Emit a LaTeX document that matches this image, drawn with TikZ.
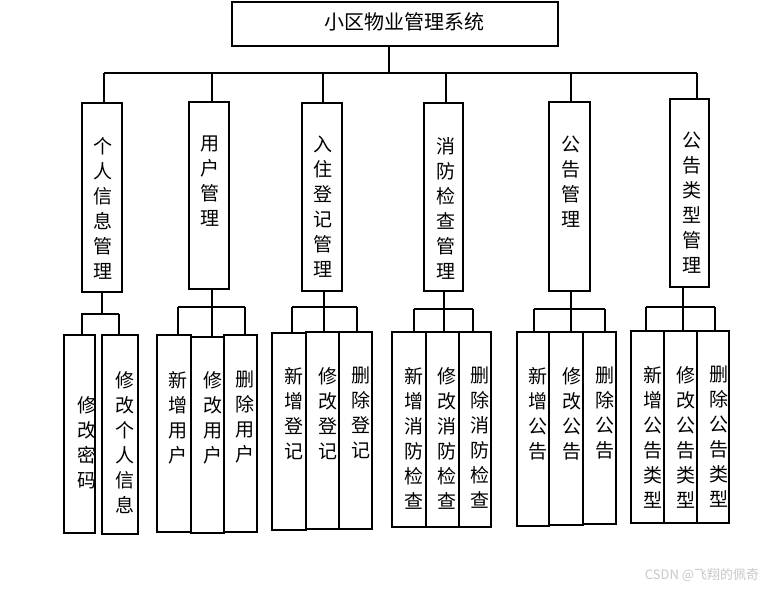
\documentclass[tikz,border=0pt]{standalone}
\usepackage{fontspec}
\setmainfont{Noto Sans CJK SC}
\begin{document}
\begin{tikzpicture}[x=1pt,y=-1pt,
  box/.style={draw, line width=1.1pt, inner sep=0pt, outer sep=0pt},
  txt/.style={font=\fontsize{19}{25}\selectfont, align=center, inner sep=0pt, anchor=north},
  ln/.style={line width=1.1pt}]
\useasboundingbox (0,0) rectangle (772,589);
\newcommand{\bx}[5]{\node[box, minimum width={#4-#2}, minimum height={#5-#3}] (#1) at ({(#2+#4)/2},{(#3+#5)/2}) {};}
% root
\bx{root}{232}{2}{558}{46}
\node[font=\fontsize{20}{24}\selectfont, inner sep=0pt] (rt) at (404.5,21.5) {小区物业管理系统};
% level 2
\bx{p1}{82}{103}{122}{292}
\bx{p2}{189}{102}{229}{289}
\bx{p3}{302}{103}{342}{291}
\bx{p4}{424}{103}{463}{291}
\bx{p5}{549}{102}{590}{291}
\bx{p6}{670}{99}{709}{287}
\node[txt] (t1) at (103,137) {个\\人\\信\\息\\管\\理};
\node[txt] (t2) at (210,136) {用\\户\\管\\理};
\node[txt] (t3) at (323,136) {入\\住\\登\\记\\管\\理};
\node[txt] (t4) at (446,137) {消\\防\\检\\查\\管\\理};
\node[txt] (t5) at (571,136) {公\\告\\管\\理};
\node[txt] (t6) at (692,132) {公\\告\\类\\型\\管\\理};
% level 1 connectors
\coordinate (rj) at (389,73);
\coordinate (m1) at (104,73);
\coordinate (m2) at (212,73);
\coordinate (m3) at (323,73);
\coordinate (m4) at (446,73);
\coordinate (m5) at (571,73);
\coordinate (m6) at (697,73);
\draw[ln] (rj |- root.south) -- (rj);
\draw[ln] (m1) -- (m6);
\foreach \i in {1,...,6}{\draw[ln] (m\i) -- (m\i |- p\i.north);}
% level 3 boxes
\bx{c11}{64}{335}{95}{533}
\bx{c12}{102}{335}{138}{534}
\bx{c21}{157}{335}{191}{532}
\bx{c22}{191}{337}{224}{533}
\bx{c23}{224}{335}{257}{532}
\bx{c31}{272}{333}{306}{530}
\bx{c32}{306}{332}{339}{529}
\bx{c33}{339}{332}{372}{529}
\bx{c41}{392}{332}{426}{527}
\bx{c42}{426}{332}{459}{527}
\bx{c43}{459}{332}{491}{527}
\bx{c51}{517}{332}{549}{526}
\bx{c52}{549}{332}{583}{525}
\bx{c53}{583}{332}{616}{524}
\bx{c61}{631}{331}{664}{523}
\bx{c62}{664}{331}{697}{523}
\bx{c63}{697}{331}{729}{523}
% level 3 texts
\node[txt] (u11) at (87,396) {修\\改\\密\\码};
\node[txt] (u12) at (125,371) {修\\改\\个\\人\\信\\息};
\node[txt] (u21) at (178,371) {新\\增\\用\\户};
\node[txt] (u22) at (213,371) {修\\改\\用\\户};
\node[txt] (u23) at (245,371) {删\\除\\用\\户};
\node[txt] (u31) at (294,367) {新\\增\\登\\记};
\node[txt] (u32) at (328,367) {修\\改\\登\\记};
\node[txt] (u33) at (361,367) {删\\除\\登\\记};
\node[txt] (u41) at (414,367) {新\\增\\消\\防\\检\\查};
\node[txt] (u42) at (447,367) {修\\改\\消\\防\\检\\查};
\node[txt] (u43) at (480,367) {删\\除\\消\\防\\检\\查};
\node[txt] (u51) at (538,367) {新\\增\\公\\告};
\node[txt] (u52) at (572,367) {修\\改\\公\\告};
\node[txt] (u53) at (605,367) {删\\除\\公\\告};
\node[txt] (u61) at (653,366) {新\\增\\公\\告\\类\\型};
\node[txt] (u62) at (686,366) {修\\改\\公\\告\\类\\型};
\node[txt] (u63) at (719,366) {删\\除\\公\\告\\类\\型};
% level 2 -> 3 connectors
\coordinate (g1) at (102,314);
\coordinate (d11) at (82,314); \coordinate (d12) at (119,314);
\coordinate (g2) at (212,307);
\coordinate (d21) at (178,307); \coordinate (d22) at (212,307); \coordinate (d23) at (245,307);
\coordinate (g3) at (324,307);
\coordinate (d31) at (292,307); \coordinate (d32) at (324,307); \coordinate (d33) at (357,307);
\coordinate (g4) at (444,309);
\coordinate (d41) at (414,309); \coordinate (d42) at (444,309); \coordinate (d43) at (473,309);
\coordinate (g5) at (571,309);
\coordinate (d51) at (534,309); \coordinate (d52) at (571,309); \coordinate (d53) at (605,309);
\coordinate (g6) at (683,307);
\coordinate (d61) at (646,307); \coordinate (d62) at (683,307); \coordinate (d63) at (715,307);
\draw[ln] (g1 |- p1.south) -- (g1);
\draw[ln] (81,314) -- (d12);
\draw[ln] (d11) -- (d11 |- c11.north);
\draw[ln] (d12) -- (d12 |- c12.north);
\foreach \g in {2,...,6}{
  \draw[ln] (g\g |- p\g.south) -- (g\g);
  \draw[ln] (d\g1) -- (d\g3);
  \foreach \k in {1,2,3}{\draw[ln] (d\g\k) -- (d\g\k |- c\g\k.north);}
}
% watermark
\node[font=\fontsize{13}{15}\selectfont, text=black!22, inner sep=0pt] (wm) at (702,575) {CSDN @飞翔的佩奇};
\end{tikzpicture}
\end{document}
